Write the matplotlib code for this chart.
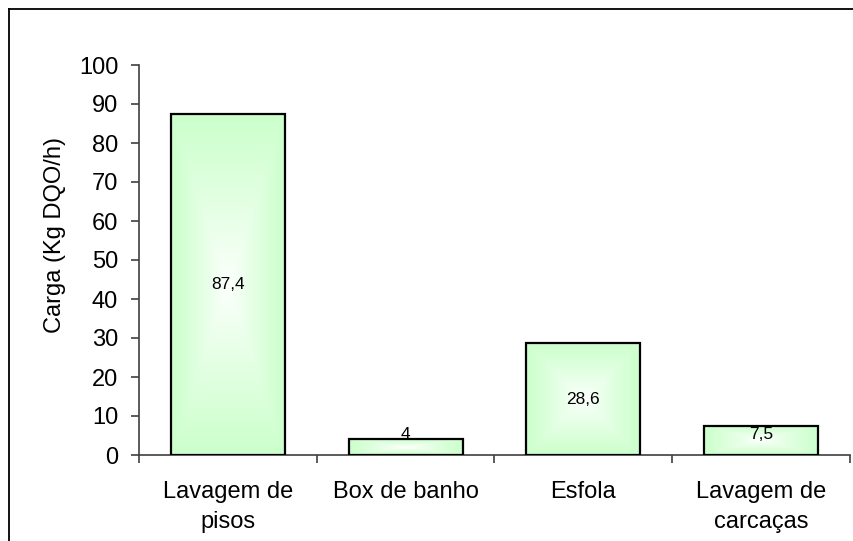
import numpy as np
import matplotlib
matplotlib.use("Agg")
import matplotlib.pyplot as plt
from matplotlib.colors import LinearSegmentedColormap
from matplotlib.lines import Line2D

categories = ["Lavagem de\npisos", "Box de banho", "Esfola", "Lavagem de\ncarcaças"]
values = [87.4, 4.0, 28.6, 7.5]
value_labels = ["87,4", "4", "28,6", "7,5"]
y_ticks = [0, 10, 20, 30, 40, 50, 60, 70, 80, 90, 100]
y_label = "Carga (Kg DQO/h)"

plt.rcParams['font.family'] = ['Liberation Sans', 'DejaVu Sans']

W, H = 854, 541
fig = plt.figure(figsize=(W / 100, H / 100), dpi=100)
fig.patch.set_facecolor("white")

# plot area in pixels
x0p, x1p, ytop, ybot = 139, 850, 65, 455
ax = fig.add_axes([x0p / W, (H - ybot) / H, (x1p - x0p) / W, (ybot - ytop) / H])
ax.set_facecolor("none")

cmap = LinearSegmentedColormap.from_list("g", ["#ffffff", "#e6ffe6", "#ccffcc"])
bw = 0.64
xs = np.arange(len(categories))
bars = ax.bar(xs, values, width=bw, facecolor="none", edgecolor="black",
              linewidth=1.6, zorder=3)

n = 200
u = np.linspace(-1, 1, n)
U, V = np.meshgrid(u, u)
grad = np.maximum(np.abs(U), np.abs(V))
grad = grad ** 0.8
for b in bars:
    x, w, h = b.get_x(), b.get_width(), b.get_height()
    im = ax.imshow(grad, extent=[x, x + w, 0, h], cmap=cmap, vmin=0, vmax=1,
                   aspect="auto", origin="lower", zorder=2, interpolation="bilinear")
    im.set_clip_path(b)

for xi, v, lab in zip(xs, values, value_labels):
    ax.text(xi, max(v / 2, 5.2), lab, ha="center", va="center", fontsize=12.5,
            color="black", zorder=4)

ax.set_xlim(-0.5, len(categories) - 0.5)
ax.set_ylim(0, 100)
ax.set_yticks(y_ticks)
ax.set_yticklabels([str(t) for t in y_ticks])
ax.set_xticks(xs)
ax.set_xticklabels(categories, fontsize=17, linespacing=1.45)
ax.set_xticks(np.arange(-0.5, len(categories)), minor=True)
ax.tick_params(axis="x", which="major", length=0, pad=19)
ax.tick_params(axis="x", which="minor", length=6, direction="out", color="#404040", width=1.2)
ax.tick_params(axis="y", length=6, direction="out", color="#404040", width=1.2,
               labelsize=17, pad=9)

for s in ["top", "right"]:
    ax.spines[s].set_visible(False)
for s in ["left", "bottom"]:
    ax.spines[s].set_color("#404040")
    ax.spines[s].set_linewidth(1.2)

fig.text(55 / W, (H - 235) / H, y_label, rotation=90, ha="center", va="center",
         fontsize=17)

# outer chart border (top and left visible)
fig.add_artist(Line2D([9 / W, 1.0], [(H - 9) / H, (H - 9) / H], transform=fig.transFigure,
                      color="black", linewidth=1.3))
fig.add_artist(Line2D([9 / W, 9 / W], [0, (H - 9) / H], transform=fig.transFigure,
                      color="black", linewidth=1.3))

fig.savefig("out.png", dpi=100)
